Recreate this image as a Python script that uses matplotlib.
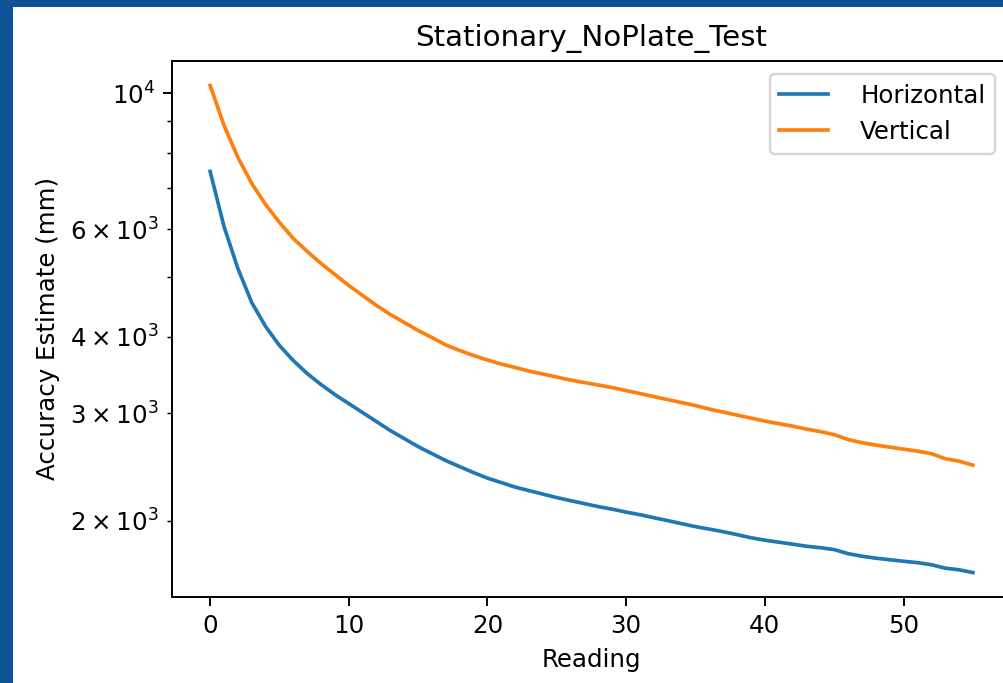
import matplotlib
matplotlib.use("Agg")
import matplotlib.pyplot as plt
from matplotlib.patches import Rectangle

readings = list(range(56))

horizontal = [7453, 6058, 5171, 4549, 4156, 3869, 3656, 3481, 3340, 3216,
              3109, 3005, 2905, 2808, 2725, 2644, 2575, 2508, 2452, 2397,
              2348, 2309, 2270, 2240, 2211, 2182, 2157, 2133, 2109, 2089,
              2066, 2046, 2023, 2001, 1978, 1956, 1938, 1919, 1898, 1876,
              1859, 1845, 1831, 1817, 1807, 1794, 1767, 1750, 1737, 1727,
              1717, 1708, 1695, 1673, 1663, 1645]

vertical = [10306, 8864, 7857, 7123, 6581, 6150, 5790, 5513, 5269, 5055,
            4850, 4671, 4498, 4348, 4219, 4094, 3987, 3876, 3797, 3726,
            3663, 3608, 3561, 3514, 3475, 3436, 3397, 3365, 3334, 3302,
            3265, 3229, 3192, 3156, 3121, 3086, 3045, 3011, 2977, 2944,
            2911, 2883, 2856, 2824, 2798, 2766, 2715, 2684, 2659, 2639,
            2619, 2600, 2575, 2527, 2503, 2466]

title = "Stationary_NoPlate_Test"
xlabel = "Reading"
ylabel = "Accuracy Estimate (mm)"
labels = ["Horizontal", "Vertical"]

DPI = 176
W, H = 1004, 683
fig = plt.figure(figsize=(W / DPI, H / DPI), dpi=DPI)
fig.patch.set_facecolor("white")

# blue frame around the screenshot (left and top bands)
border = "#0C5295"
fig.patches.append(Rectangle((0, 0), 13 / W, 1, transform=fig.transFigure,
                             facecolor=border, edgecolor="none", zorder=10))
fig.patches.append(Rectangle((0, 1 - 7 / H), 1, 7 / H, transform=fig.transFigure,
                             facecolor=border, edgecolor="none", zorder=10))

left = 172 / W
right = 1011 / W
bottom = 1 - 597 / H
top = 1 - 61 / H
ax = fig.add_axes([left, bottom, right - left, top - bottom])

ax.plot(readings, horizontal, label=labels[0])
ax.plot(readings, vertical, label=labels[1])
ax.set_yscale("log")
ax.set_title(title)
ax.set_xlabel(xlabel)
ax.set_ylabel(ylabel)
ax.legend(loc="upper right", bbox_to_anchor=(0.981, 0.976),
          borderaxespad=0, handletextpad=1.3)

fig.savefig("out.png", dpi=DPI)
